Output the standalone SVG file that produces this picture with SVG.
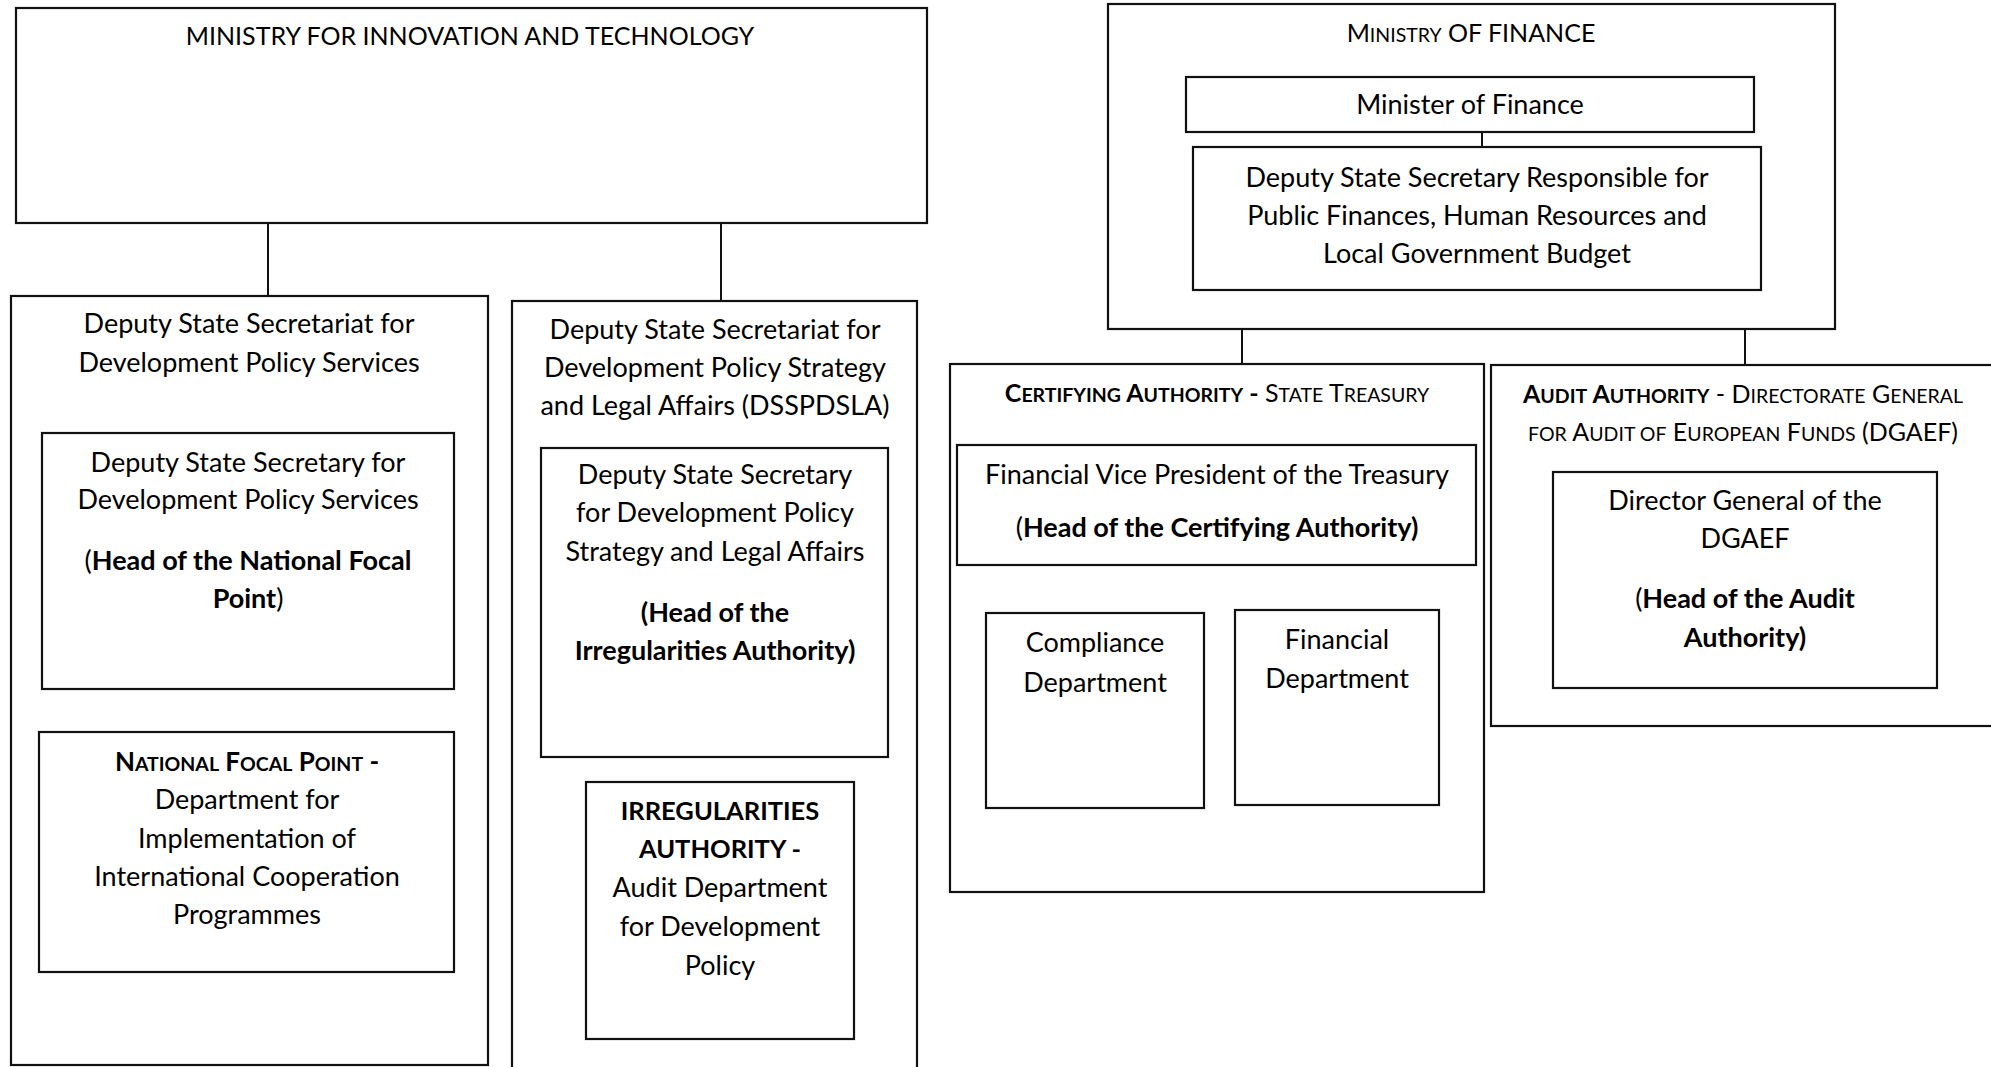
<svg xmlns="http://www.w3.org/2000/svg" width="1991" height="1067" viewBox="0 0 1991 1067">
  <style>
    .box { fill: #ffffff; stroke: #111111; stroke-width: 2.2; }
    .link { stroke: #111111; stroke-width: 2; fill: none; }
    text { font-family: Lato, "Liberation Sans", sans-serif; font-size: 27px; fill: #000000; text-anchor: middle; }
    .b { font-weight: bold; }
    .hd { font-size: 25px; }
    .cap { font-size: 25px; }
    .sm { font-size: 19.5px; }
    .caps { font-size: 25.5px; }
  </style>
  <rect width="1991" height="1067" fill="#ffffff"/>

  <!-- Ministry for Innovation and Technology -->
  <g id="mit">
    <rect class="box" x="16" y="8" width="911" height="215"/>
    <text class="hd" x="470" y="45">MINISTRY FOR INNOVATION AND TECHNOLOGY</text>
  </g>

  <!-- Deputy State Secretariat for Development Policy Services -->
  <g id="dss-services">
    <rect class="box" x="11" y="296" width="477" height="769"/>
    <text x="249" y="333">Deputy State Secretariat for</text>
    <text x="249" y="372">Development Policy Services</text>
  </g>
  <g id="dss-services-head">
    <rect class="box" x="42" y="433" width="412" height="256"/>
    <text x="248" y="472">Deputy State Secretary for</text>
    <text x="248" y="509">Development Policy Services</text>
    <text x="248" y="570">(<tspan class="b">Head of the National Focal</tspan></text>
    <text x="248" y="608"><tspan class="b">Point</tspan>)</text>
  </g>
  <g id="national-focal-point">
    <rect class="box" x="39" y="732" width="415" height="240"/>
    <text class="b" x="247" y="771" style="font-size:26px">N<tspan class="sm">ATIONAL</tspan> F<tspan class="sm">OCAL</tspan> P<tspan class="sm">OINT</tspan> -</text>
    <text x="247" y="809">Department for</text>
    <text x="247" y="848">Implementation of</text>
    <text x="247" y="886">International Cooperation</text>
    <text x="247" y="924">Programmes</text>
  </g>

  <!-- Deputy State Secretariat for Development Policy Strategy and Legal Affairs -->
  <g id="dsspdsla">
    <rect class="box" x="512" y="301" width="405" height="800"/>
    <text x="715" y="339">Deputy State Secretariat for</text>
    <text x="715" y="377">Development Policy Strategy</text>
    <text x="715" y="415">and Legal Affairs (DSSPDSLA)</text>
  </g>
  <g id="dsspdsla-head">
    <rect class="box" x="541" y="448" width="347" height="309"/>
    <text x="715" y="484">Deputy State Secretary</text>
    <text x="715" y="522">for Development Policy</text>
    <text x="715" y="561">Strategy and Legal Affairs</text>
    <text class="b" x="715" y="622">(Head of the</text>
    <text class="b" x="715" y="660">Irregularities Authority)</text>
  </g>
  <g id="irregularities-authority">
    <rect class="box" x="586" y="782" width="268" height="257"/>
    <text class="b caps" x="720" y="820">IRREGULARITIES</text>
    <text class="b caps" x="720" y="858">AUTHORITY -</text>
    <text x="720" y="897">Audit Department</text>
    <text x="720" y="936">for Development</text>
    <text x="720" y="975">Policy</text>
  </g>

  <!-- Ministry of Finance -->
  <g id="mof">
    <rect class="box" x="1108" y="4" width="727" height="325"/>
    <text class="cap" x="1471" y="42">M<tspan class="sm">INISTRY</tspan> OF FINANCE</text>
  </g>
  <g id="minister">
    <rect class="box" x="1186" y="77" width="568" height="55"/>
    <text x="1470" y="114">Minister of Finance</text>
  </g>
  <g id="mof-dss">
    <rect class="box" x="1193" y="147" width="568" height="143"/>
    <text x="1477" y="187">Deputy State Secretary Responsible for</text>
    <text x="1477" y="225">Public Finances, Human Resources and</text>
    <text x="1477" y="263">Local Government Budget</text>
  </g>

  <!-- Certifying Authority -->
  <g id="certifying-authority">
    <rect class="box" x="950" y="364" width="534" height="528"/>
    <text class="cap" x="1217" y="402"><tspan class="b">C<tspan class="sm">ERTIFYING</tspan> A<tspan class="sm">UTHORITY</tspan> -</tspan> S<tspan class="sm">TATE</tspan> T<tspan class="sm">REASURY</tspan></text>
  </g>
  <g id="treasury-vp">
    <rect class="box" x="957" y="445" width="519" height="120"/>
    <text x="1217" y="484">Financial Vice President of the Treasury</text>
    <text x="1217" y="537">(<tspan class="b">Head of the Certifying Authority)</tspan></text>
  </g>
  <g id="compliance-dept">
    <rect class="box" x="986" y="613" width="218" height="195"/>
    <text x="1095" y="652">Compliance</text>
    <text x="1095" y="692">Department</text>
  </g>
  <g id="financial-dept">
    <rect class="box" x="1235" y="610" width="204" height="195"/>
    <text x="1337" y="649">Financial</text>
    <text x="1337" y="688">Department</text>
  </g>

  <!-- Audit Authority -->
  <g id="audit-authority">
    <rect class="box" x="1491" y="365" width="520" height="361"/>
    <text class="cap" x="1743" y="403"><tspan class="b">A<tspan class="sm">UDIT</tspan> A<tspan class="sm">UTHORITY</tspan></tspan> - D<tspan class="sm">IRECTORATE</tspan> G<tspan class="sm">ENERAL</tspan></text>
    <text class="cap" x="1743" y="441"><tspan class="sm">FOR</tspan> A<tspan class="sm">UDIT OF</tspan> E<tspan class="sm">UROPEAN</tspan> F<tspan class="sm">UNDS</tspan> (DGAEF)</text>
  </g>
  <g id="dgaef-director">
    <rect class="box" x="1553" y="472" width="384" height="216"/>
    <text x="1745" y="510">Director General of the</text>
    <text x="1745" y="548">DGAEF</text>
    <text x="1745" y="608">(<tspan class="b">Head of the Audit</tspan></text>
    <text class="b" x="1745" y="647">Authority)</text>
  </g>

  <!-- Connectors -->
  <g id="connectors">
    <line class="link" x1="268" y1="223" x2="268" y2="296"/>
    <line class="link" x1="721" y1="223" x2="721" y2="301"/>
    <line class="link" x1="1482" y1="132" x2="1482" y2="147"/>
    <line class="link" x1="1242" y1="329" x2="1242" y2="364"/>
    <line class="link" x1="1745" y1="329" x2="1745" y2="365"/>
  </g>
</svg>
